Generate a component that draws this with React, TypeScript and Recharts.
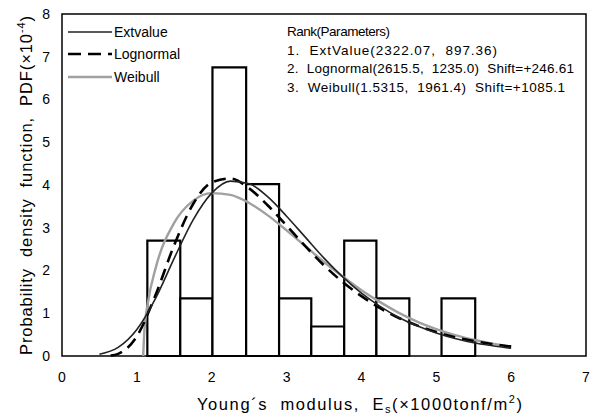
import { ComposedChart, Line, ReferenceArea, XAxis, YAxis } from 'recharts';

// histogram bins (x in ×1000 tonf/m², height in PDF ×10^-4)
const BIN_LEFT = [1.14, 1.58, 2.01, 2.46, 2.9, 3.33, 3.77, 4.2, 4.64, 5.07];
const BIN_RIGHT = [1.58, 2.01, 2.46, 2.9, 3.33, 3.77, 4.2, 4.64, 5.07, 5.52];
const BIN_HEIGHT = [2.7, 1.35, 6.75, 4.02, 1.35, 0.69, 2.7, 1.35, 0, 1.35];

const EXT_X = [0.5, 0.75, 1.0, 1.25, 1.5, 1.75, 2.0, 2.25, 2.5, 2.75, 3.0, 3.25, 3.5, 3.75, 4.0, 4.25, 4.5, 4.75, 5.0, 5.25, 5.5, 5.75, 6.0];
const EXT_Y = [0.04, 0.2, 0.62, 1.35, 2.29, 3.18, 3.81, 4.09, 4.03, 3.72, 3.27, 2.78, 2.29, 1.85, 1.47, 1.16, 0.9, 0.7, 0.54, 0.41, 0.31, 0.24, 0.18];

const LOG_X = [0.65, 0.75, 1.0, 1.25, 1.5, 1.75, 2.0, 2.25, 2.5, 2.75, 3.0, 3.25, 3.5, 3.75, 4.0, 4.25, 4.5, 4.75, 5.0, 5.25, 5.5, 5.75, 6.0];
const LOG_Y = [0.01, 0.05, 0.46, 1.43, 2.6, 3.55, 4.06, 4.15, 3.92, 3.52, 3.05, 2.57, 2.12, 1.73, 1.4, 1.12, 0.89, 0.71, 0.56, 0.44, 0.35, 0.28, 0.22];

const WEI_X = [1.085, 1.1, 1.15, 1.25, 1.5, 1.75, 2.0, 2.25, 2.5, 2.75, 3.0, 3.25, 3.5, 3.75, 4.0, 4.25, 4.5, 4.75, 5.0, 5.25, 5.5, 5.75, 6.0];
const WEI_Y = [0, 0.58, 1.27, 2.05, 3.12, 3.63, 3.81, 3.77, 3.58, 3.29, 2.94, 2.57, 2.2, 1.86, 1.54, 1.26, 1.01, 0.8, 0.63, 0.49, 0.38, 0.29, 0.22];

const X_TICKS = [0, 1, 2, 3, 4, 5, 6, 7];
const Y_TICKS = [0, 1, 2, 3, 4, 5, 6, 7, 8];

const RANK_LINES = [
  'Rank(Parameters)',
  '1.  ExtValue(2322.07,  897.36)',
  '2.  Lognormal(2615.5,  1235.0)  Shift=+246.61',
  '3.  Weibull(1.5315,  1961.4)  Shift=+1085.1',
];
// rendered widths of the rank lines in the reference
const RANK_WIDTHS = [103, 210, 287, 278];

const FONT = '"Liberation Sans", Arial, sans-serif';

const toPoints = (xs: number[], ys: number[]) => xs.map((x, i) => ({ x, y: ys[i] }));

const extData = toPoints(EXT_X, EXT_Y);
const logData = toPoints(LOG_X, LOG_Y);
const weiData = toPoints(WEI_X, WEI_Y);

const LEGEND_ITEMS = [
  { name: 'Extvalue', stroke: '#222', width: 1.6, dash: undefined as string | undefined, y: 32 },
  { name: 'Lognormal', stroke: '#000', width: 2.6, dash: '13 7', y: 54 },
  { name: 'Weibull', stroke: '#a0a0a0', width: 2.4, dash: undefined, y: 77 },
];

export default function App() {
  return (
    <div style={{ position: 'absolute', left: 0, top: 0, width: 595, height: 415, background: '#fff' }}>
      <ComposedChart width={595} height={415} margin={{ top: 14, right: 9, bottom: 29, left: 22 }}>
        <XAxis
          type="number"
          dataKey="x"
          domain={[0, 7]}
          ticks={X_TICKS}
          allowDataOverflow
          tickLine={false}
          axisLine={false}
          tickSize={0}
          tickMargin={16}
          height={30}
          tick={{ fontFamily: FONT, fontSize: 14, fill: '#000' }}
        />
        <YAxis
          type="number"
          domain={[0, 8]}
          ticks={Y_TICKS}
          tickLine={false}
          axisLine={false}
          tickSize={0}
          tickMargin={12}
          width={40}
          tick={{ fontFamily: FONT, fontSize: 14, fill: '#000' }}
        />
        {BIN_LEFT.map((x1, i) =>
          BIN_HEIGHT[i] > 0 ? (
            <ReferenceArea
              key={i}
              x1={x1}
              x2={BIN_RIGHT[i]}
              y1={0}
              y2={BIN_HEIGHT[i]}
              fill="#fff"
              fillOpacity={1}
              stroke="#000"
              strokeWidth={2.2}
              ifOverflow="visible"
            />
          ) : null
        )}
        <ReferenceArea x1={0} x2={7} y1={0} y2={8} fill="none" stroke="#000" strokeWidth={1.5} />
        <Line
          data={weiData}
          dataKey="y"
          type="monotone"
          stroke="#a0a0a0"
          strokeWidth={2.4}
          dot={false}
          isAnimationActive={false}
        />
        <Line
          data={logData}
          dataKey="y"
          type="monotone"
          stroke="#000"
          strokeWidth={2.6}
          strokeDasharray="12 7"
          dot={false}
          isAnimationActive={false}
        />
        <Line
          data={extData}
          dataKey="y"
          type="monotone"
          stroke="#222"
          strokeWidth={1.6}
          dot={false}
          isAnimationActive={false}
        />
      </ComposedChart>
      <svg
        width={595}
        height={415}
        style={{ position: 'absolute', left: 0, top: 0, pointerEvents: 'none' }}
      >
        {LEGEND_ITEMS.map((it) => (
          <g key={it.name}>
            <line
              x1={68}
              x2={112}
              y1={it.y}
              y2={it.y}
              stroke={it.stroke}
              strokeWidth={it.width}
              strokeDasharray={it.dash}
            />
            <text x={114} y={it.y + 5} fontFamily={FONT} fontSize={14} fill="#000">
              {it.name}
            </text>
          </g>
        ))}
        {RANK_LINES.map((t, i) => (
          <text
            key={i}
            x={287}
            y={36 + i * 18.5}
            fontFamily={FONT}
            fontSize={13.5}
            fill="#000"
            textLength={RANK_WIDTHS[i]}
            lengthAdjust="spacing"
            style={{ whiteSpace: 'pre' }}
          >
            {t}
          </text>
        ))}
        <text
          x={197}
          y={410}
          fontFamily={FONT}
          fontSize={16.5}
          fill="#000"
          textLength={325}
          lengthAdjust="spacing"
          style={{ whiteSpace: 'pre' }}
        >
          {'Young\u00b4s  modulus,  E'}
          <tspan fontSize={11} dy={3}>s</tspan>
          <tspan dy={-3}>{'(\u00d71000tonf/m'}</tspan>
          <tspan fontSize={11} dy={-7}>2</tspan>
          <tspan dy={7}>)</tspan>
        </text>
        <text
          transform="translate(32, 355) rotate(-90)"
          x={0}
          y={0}
          fontFamily={FONT}
          fontSize={16.5}
          fill="#000"
          textLength={339}
          lengthAdjust="spacing"
          style={{ whiteSpace: 'pre' }}
        >
          {'Probability  density  function,  PDF(\u00d710'}
          <tspan fontSize={11} dy={-7}>-4</tspan>
          <tspan dy={7}>)</tspan>
        </text>
      </svg>
    </div>
  );
}
